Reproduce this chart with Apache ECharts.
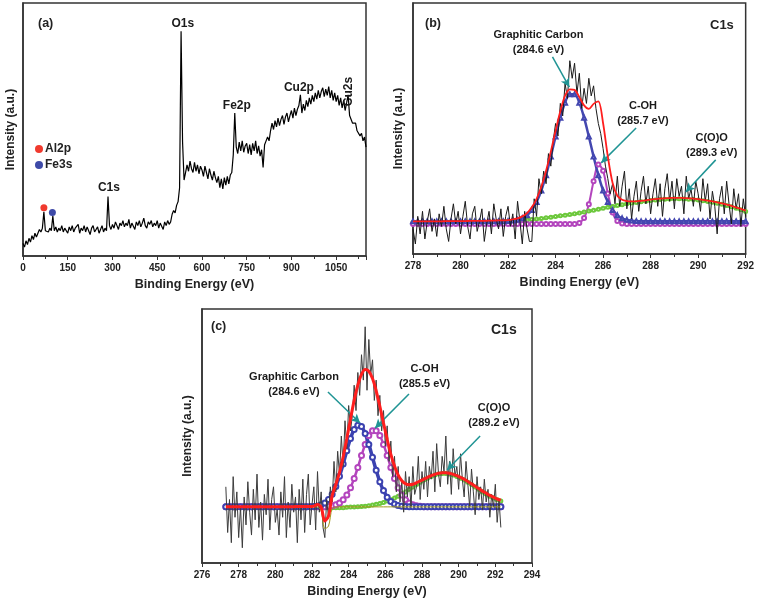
<!DOCTYPE html>
<html><head><meta charset="utf-8">
<script src="https://cdn.jsdelivr.net/npm/echarts@6/dist/echarts.min.js"></script>
<style>html,body{margin:0;padding:0;background:#fff}#c{width:757px;height:600px}</style>
</head><body><div id="c"></div>
<script>
// ---------- Panel (a): survey spectrum ----------
const surveyStart = 0, surveyStep = 5;
const surveyIntensity = [
5,3.5,6,4.5,7,5.5,8,6.5,9,7.5,
9,10.5,9.5,11,17.5,10,10.5,9.5,11,10,
15.8,10,11.5,9.5,11,10,12,9.5,11,10.5,
9,11.5,10,12,9.5,11,10.5,12.5,9,11,
10,12,9.5,11.5,10,8.5,11,12,9.5,10.5,
11.5,9,10.5,12,9.5,11,10,23.5,12,10.5,
12.5,11,13.5,12,10.5,13,12,14,11.5,13,
12,14.5,11,13,12.5,10.5,13.5,12,14,11.5,
13,15,12,11,13.5,12.5,14,11.5,13,12,
14,11,13,12.5,10.5,13.5,12,14,12.5,13.5,
16.5,18,17,20,21.5,27,88.8,45,30,33,
36,33.5,37.5,34.5,33,37,33.5,36,32.5,35.5,
34,31.5,35.5,33,30.5,34.5,32,30,33.5,31,
29,31.5,27,30.5,26.5,31,28,31.5,28.5,32,
33,40,56.5,43,40.5,45,41.5,45.5,41,43.5,
44.5,40.5,44,40,44.5,41.5,45.5,40.5,43.5,39.5,
42,35,44,45.5,47,45.5,49.5,52.5,50,53.5,
51,54.5,51.5,54,55.5,52,55,56.5,53,55.5,
57.5,54.5,58.5,55.5,58,59.5,63.7,56.5,60,57.5,
61.5,59,62.5,60,63.5,61,64.5,62,65.5,62.5,
65,66.5,63,66,63.5,67,62.5,65.5,61.5,64.5,
61,63.5,59.5,62.5,58.5,61.5,57.5,60.5,63.7,55.5,
55.5,52.5,52,52.5,49.5,50,47.5,48.5,45.5,47,
43];
const al2pMarker = [70, 19.1];
const fe3sMarker = [98.5, 17.2];
const surveyPeakNames = ['O1s','Fe2p','Cu2p','Cu2s','C1s'];
const surveyPeakLabelPos = [[536,92],[717,59.3],[925,66.4],[1092,65],[288,26.9]];

// ---------- Panel (b): C1s ----------
const bRawStart = 278, bRawStep = 0.1;
const bRaw = [
10,4,15,8,17,6,13,18,9,14,
7,16,11,19,10,5,14,20,12,17,
8,15,21,11,6,16,19,9,13,18,
5,12,17,8,20,14,10,18,7,15,
19,11,16,6,21,13,4,17,10,5,
5,22,15,30,24,33,28,40,35,45,
52,47,60,55,68,62,77,70,76,64,
72,58,66,60,70,63,67,58,52,48,
42,35,30,24,28,20,31,19,27,33,
18,26,14,23,29,17,25,31,20,27,
16,24,30,19,28,15,26,32,21,29,
18,30,23,27,16,31,22,26,19,29,
24,17,30,21,28,14,25,19,8,22,
27,16,29,20,12,26,18,24,11,22,
15];
const bFitStart = 278, bFitStep = 0.2;
const bGraphitic = [
13,13,13,13,13,13,13,13,13,13,13,13,13,13,13,13,13,13,13,13,
13.1,13.3,13.6,14.2,15.4,17.5,20.7,25.3,31.4,38.8,46.8,54.3,60.3,63.6,63.6,60.3,54.3,46.8,38.8,31.4,25.3,20.7,17.5,15.4,14.2,13.6,13.3,13.1,
13,13,13,13,13,13,13,13,13,13,13,13,13,13,13,13,13,13,13,13,13,13,13];
const bCOH = [
12,12,12,12,12,12,12,12,12,12,12,12,12,12,12,12,12,12,12,12,12,12,12,12,12,12,12,12,12,12,12,12,12,12,12,
12.4,14.3,19.8,29.0,35.7,33.2,24.1,16.5,13.1,12.2,
12,12,12,12,12,12,12,12,12,12,12,12,12,12,12,12,12,12,12,12,12,12,12,12,12,12];
const bCOO = [
12.6,12.6,12.6,12.6,12.6,12.6,12.6,12.7,12.7,12.7,12.7,12.7,12.8,12.8,12.8,12.8,12.9,12.9,13.0,13.0,
13.0,13.1,13.2,13.4,13.5,13.7,13.9,14.1,14.4,14.6,14.9,15.2,15.4,15.7,16.0,16.3,16.7,17.1,17.4,17.8,18.2,18.6,18.9,19.3,19.6,20.0,20.3,20.5,
20.8,21.0,21.3,21.5,21.7,21.8,21.9,22.0,22.0,21.9,21.8,21.7,21.5,21.2,20.9,20.6,20.2,19.8,19.3,18.8,18.2,17.6,16.9];
const bEnvelope = [
13.0,13.0,13.0,13.0,13.0,13.0,13.0,13.1,13.1,13.1,13.1,13.1,13.2,13.2,13.2,13.2,13.3,13.3,13.4,13.4,
13.5,13.8,14.2,15.0,16.3,18.6,22.0,26.8,33.2,40.8,49.1,56.9,63.1,65.6,65.4,62.5,59.2,57.8,59.8,60.8,52.1,38.8,28.3,23.2,21.6,21.1,21.0,21.0,
21.2,21.4,21.7,21.9,22.1,22.2,22.3,22.4,22.4,22.3,22.2,22.1,21.9,21.6,21.3,21.0,20.6,20.2,19.7,19.2,18.6,18.0,17.3];
const bLabels = ['Graphitic Carbon\n(284.6 eV)','C-OH\n(285.7 eV)','C(O)O\n(289.3 eV)'];
const bLabelPos = [[283.28,84.3],[287.68,55.8],[290.57,43.4]];
const bArrows = [[[283.87,78.5],[284.58,66.5]],[[287.39,50.2],[285.92,36.3]],[[290.74,37.5],[289.48,24.7]]];

// ---------- Panel (c): C1s ----------
const cRawStart = 277.3, cRawStep = 0.1;
const cRaw = [
30,12,25,8,34,18,28,10,22,6,
26,15,32,20,11,29,17,35,14,24,
9,27,19,33,13,25,30,16,21,11,
28,18,34,10,24,14,31,20,26,8,
29,17,33,12,27,35,15,23,30,13,
36,20,28,14,10,25,18,30,24,40,
28,44,35,50,38,56,45,62,52,58,
70,60,75,66,82,72,93,68,88,74,
80,64,72,58,66,52,60,46,54,40,
48,34,42,28,38,24,32,20,36,26,
34,22,38,27,30,42,25,36,29,40,
26,38,33,44,28,47,35,30,42,36,
50,31,40,27,45,34,38,29,43,33,
26,40,31,22,37,28,19,34,25,30,
21,33,24,29,18,27,22,31,16,25,
14];
const cFitStart = 277.3, cFitStep = 0.2;
const cGraphitic = [
22.1,22.1,22.1,22.1,22.1,22.1,22.1,22.1,22.1,22.1,22.1,22.1,22.1,22.1,22.1,22.1,22.1,22.1,22.1,22.1,22.1,22.1,22.1,22.1,
22.2,22.4,22.9,23.6,25.0,27.1,30.1,34.2,39.0,44.2,49.0,52.6,54.2,53.7,51.0,46.7,41.6,36.5,32.0,28.5,25.9,24.2,23.2,22.6,22.3,22.2,
22.1,22.1,22.1,22.1,22.1,22.1,22.1,22.1,22.1,22.1,22.1,22.1,22.1,22.1,22.1,22.1,22.1,22.1,22.1,22.1,22.1,22.1,22.1,22.1,22.1,22.1];
const cCOH = [
22.1,22.1,22.1,22.1,22.1,22.1,22.1,22.1,22.1,22.1,22.1,22.1,22.1,22.1,22.1,22.1,22.1,22.1,22.1,22.1,22.1,22.1,22.1,22.1,22.1,22.1,22.1,22.1,
22.3,22.5,22.9,23.6,24.9,26.8,29.6,33.3,37.6,42.3,46.7,50.2,52.1,52.1,50.2,46.7,42.3,37.6,33.3,29.6,26.8,24.9,23.6,22.9,22.5,22.3,
22.1,22.1,22.1,22.1,22.1,22.1,22.1,22.1,22.1,22.1,22.1,22.1,22.1,22.1,22.1,22.1,22.1,22.1,22.1,22.1,22.1,22.1];
const cCOO = [
21.8,21.8,21.8,21.8,21.8,21.8,21.8,21.8,21.8,21.8,21.8,21.8,21.8,21.8,21.8,21.8,21.8,21.8,21.8,21.8,21.8,21.8,21.8,21.8,21.8,21.8,21.8,21.8,21.8,21.8,21.8,21.8,21.8,
21.9,22.0,22.0,22.1,22.2,22.35,22.5,22.8,23.1,23.4,23.8,24.4,24.9,25.6,26.3,27.2,
28.0,29.0,29.9,30.9,31.8,32.7,33.4,34.1,34.6,35.0,35.2,35.2,35.0,34.6,34.1,33.4,32.7,31.8,30.9,29.9,29.0,28.0,27.2,26.3,25.6,24.9,24.4];
const cArtifact = [
22.1,22.1,22.1,22.1,22.1,22.1,22.1,22.1,22.1,22.1,22.1,22.1,22.1,22.1,22.1,22.1,22.1,22.1,22.1,22.1,22.1,22.1,22.1,22.1,22.1,22.1,
20.5,13.5,14.5,21.5,22.0,
22.1,22.1,22.1,22.1,22.1,22.1,22.1,22.1,22.1,22.1,22.1,22.1,22.1,22.1,22.1,22.1,22.1,22.1,22.1,22.1,22.1,22.1,22.1,22.1,22.1,22.1,22.1,22.1,22.1,22.1,22.1,22.1,22.1,22.1,22.1,22.1,22.1,22.1,22.1,22.1,22.1,22.1,22.1,22.1,22.1];
const cEnvelope = [
22.1,22.1,22.1,22.1,22.1,22.1,22.1,22.1,22.1,22.1,22.1,22.1,22.1,22.1,22.1,22.1,22.1,22.1,22.1,22.2,22.2,22.2,22.2,22.2,
22.4,23.0,22.0,16.5,18.5,26.5,30.9,35.7,41.8,49.0,56.7,64.0,70.0,74.3,76.2,75.5,72.6,67.8,61.7,55.1,48.7,42.8,38.2,34.6,32.4,
31.2,30.8,31.0,31.6,32.3,33.0,33.7,34.4,34.9,35.3,35.5,35.5,35.3,34.9,34.4,33.7,33.0,32.1,31.2,30.2,29.3,28.3,27.5,26.6,25.9,25.2,24.7];
const cLabels = ['Graphitic Carbon\n(284.6 eV)','C-OH\n(285.5 eV)','C(O)O\n(289.2 eV)'];
const cLabelPos = [[281.02,70.3],[288.14,73.4],[291.93,57.9]];
const cArrows = [[[282.87,67.3],[284.62,55.1]],[[287.29,66.5],[285.44,53.1]],[[291.17,50],[289.37,36.6]]];

// ---------- helpers ----------
const pairs = (start, step, arr) => arr.map((v, i) => [+(start + i * step).toFixed(2), v]);
const FONT = '"Liberation Sans", Arial, sans-serif';
const AX = '#333';
function xAx(gi, min, max, interval, showMax) {
  return {
    type: 'value', gridIndex: gi, min, max, interval,
    name: 'Binding Energy (eV)', nameLocation: 'middle', nameGap: 22,
    nameTextStyle: { fontWeight: 'bold', fontSize: 12.5, color: '#222', fontFamily: FONT },
    axisLine: { onZero: false, lineStyle: { color: AX, width: 1.5 } },
    axisTick: { show: true, length: 4, lineStyle: { color: AX, width: 1 } },
    minorTick: { show: true, splitNumber: 2, length: 3, lineStyle: { color: AX } },
    axisLabel: { fontSize: 10, fontWeight: 'bold', color: '#222', margin: 7, fontFamily: FONT,
      showMaxLabel: showMax, formatter: v => String(v) },
    splitLine: { show: false }
  };
}
function yAx(gi, gap) {
  return {
    type: 'value', gridIndex: gi, min: 0, max: 100,
    name: 'Intensity (a.u.)', nameLocation: 'middle', nameGap: gap,
    nameTextStyle: { fontWeight: 'bold', fontSize: 12, color: '#222', fontFamily: FONT },
    axisLine: { show: true, onZero: false, lineStyle: { color: AX, width: 1.5 } },
    axisTick: { show: false }, axisLabel: { show: false }, splitLine: { show: false }
  };
}
function annot(xi, names, pos, arrows, rotIdx) {
  return {
    type: 'scatter', xAxisIndex: xi, yAxisIndex: xi, symbolSize: 0, z: 10, silent: true,
    itemStyle: { opacity: 1 },
    data: names.map((n, i) => {
      const d = { name: n, value: pos[i] };
      if (rotIdx === i) d.label = { rotate: 90 };
      return d;
    }),
    label: { show: true, position: 'inside', formatter: p => p.name, color: '#1a1a1a', fontWeight: 'bold',
      opacity: 1, fontSize: xi === 0 ? 12 : 11, lineHeight: 15, align: 'center', verticalAlign: 'middle', fontFamily: FONT },
    markLine: arrows ? {
      silent: true, symbol: ['none', 'arrow'], symbolSize: [7, 9],
      lineStyle: { color: '#1f9494', width: 1.5, type: 'solid', opacity: 1 }, label: { show: false },
      data: arrows.map(a => [{ coord: a[0] }, { coord: a[1] }])
    } : undefined
  };
}
function fitLine(xi, start, step, arr, color, symbol, size, width, z) {
  return {
    type: 'line', xAxisIndex: xi, yAxisIndex: xi, data: pairs(start, step, arr), z: z || 2,
    smooth: 0.3, showAllSymbol: true, showSymbol: !!symbol, symbol: symbol || 'none', symbolSize: size,
    itemStyle: { color, borderWidth: 1 }, lineStyle: { color, width }, silent: true
  };
}

const chart = echarts.init(document.getElementById('c'), null, { renderer: 'canvas' });
chart.setOption({
  animation: false,
  backgroundColor: '#fff',
  textStyle: { fontFamily: FONT },
  title: [
    { text: '(a)', left: 33, top: 12, textStyle: { fontSize: 12.5, fontWeight: 'bold', color: '#222' } },
    { text: '(b)', left: 420, top: 12, textStyle: { fontSize: 12.5, fontWeight: 'bold', color: '#222' } },
    { text: 'C1s', left: 705, top: 14, textStyle: { fontSize: 13, fontWeight: 'bold', color: '#222' } },
    { text: '(c)', left: 206, top: 315, textStyle: { fontSize: 12.5, fontWeight: 'bold', color: '#222' } },
    { text: 'C1s', left: 486, top: 318, textStyle: { fontSize: 14, fontWeight: 'bold', color: '#222' } }
  ],
  legend: {
    data: ['Al2p', 'Fe3s'], left: 30, top: 138, orient: 'vertical', icon: 'circle',
    itemWidth: 8, itemHeight: 8, itemGap: 4,
    textStyle: { fontWeight: 'bold', fontSize: 12, color: '#222', padding: [0, 0, 0, -3] }
  },
  grid: [
    { left: 23, top: 3, width: 343, height: 253, show: true, borderColor: AX, borderWidth: 1.5 },
    { left: 413, top: 3, width: 334, height: 251, show: true, borderColor: AX, borderWidth: 1.5 },
    { left: 202, top: 309, width: 330, height: 254, show: true, borderColor: AX, borderWidth: 1.5 }
  ],
  xAxis: [xAx(0, 0, 1150, 150, false), xAx(1, 278, 292, 2, true), xAx(2, 276, 294, 2, true)],
  yAxis: [yAx(0, 6), yAx(1, 8), yAx(2, 8)],
  series: [
    // (a)
    { type: 'line', xAxisIndex: 0, yAxisIndex: 0, data: pairs(surveyStart, surveyStep, surveyIntensity),
      showSymbol: false, lineStyle: { color: '#000', width: 1.2 }, silent: true },
    { name: 'Al2p', type: 'scatter', xAxisIndex: 0, yAxisIndex: 0, data: [al2pMarker], symbolSize: 7, itemStyle: { color: '#f03a2e', opacity: 1 } },
    { name: 'Fe3s', type: 'scatter', xAxisIndex: 0, yAxisIndex: 0, data: [fe3sMarker], symbolSize: 7, itemStyle: { color: '#3e4aa8', opacity: 1 } },
    annot(0, surveyPeakNames, surveyPeakLabelPos, null, 3),
    // (b)
    { type: 'line', xAxisIndex: 1, yAxisIndex: 1, data: pairs(bRawStart, bRawStep, bRaw),
      showSymbol: false, lineStyle: { color: '#1a1a1a', width: 1 }, silent: true },
    fitLine(1, bFitStart, bFitStep, bCOO, '#6cc83c', 'emptyCircle', 3, 3),
    fitLine(1, bFitStart, bFitStep, bCOH, '#b345bd', 'emptyCircle', 4, 2),
    fitLine(1, bFitStart, bFitStep, bGraphitic, '#4347b0', 'emptyTriangle', 4, 2.5),
    fitLine(1, bFitStart, bFitStep, bEnvelope, '#ff1e1e', null, 0, 1.8, 5),
    annot(1, bLabels, bLabelPos, bArrows),
    // (c)
    { type: 'line', xAxisIndex: 2, yAxisIndex: 2, data: pairs(cRawStart, cRawStep, cRaw),
      showSymbol: false, lineStyle: { color: '#3c3c3c', width: 1 }, silent: true },
    fitLine(2, cFitStart, cFitStep, cCOO, '#6cc83c', 'emptyCircle', 3, 3.5),
    fitLine(2, cFitStart, cFitStep, cCOH, '#b345bd', 'emptyCircle', 5, 2.5),
    fitLine(2, cFitStart, cFitStep, cGraphitic, '#3b42b0', 'emptyCircle', 5, 3.5),
    fitLine(2, cFitStart, cFitStep, cArtifact, '#a39a1c', null, 0, 1, 4),
    fitLine(2, cFitStart, cFitStep, cEnvelope, '#ff1e1e', null, 0, 3, 5),
    annot(2, cLabels, cLabelPos, cArrows)
  ]
});
</script></body></html>
